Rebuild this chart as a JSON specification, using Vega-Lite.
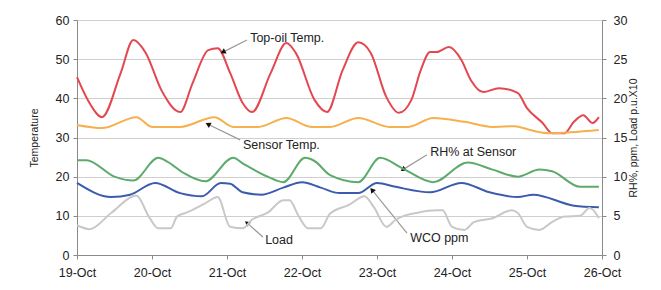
{
  "$schema": "https://vega.github.io/schema/vega-lite/v6.json",
  "width": 525,
  "height": 235,
  "autosize": "none",
  "padding": {"left": 77, "top": 20, "right": 59, "bottom": 35},
  "background": "white",
  "config": {
    "font": "Liberation Sans",
    "view": {"stroke": null},
    "axis": {
      "labelFont": "Liberation Sans",
      "labelFontSize": 12.5,
      "labelColor": "#222",
      "titleFont": "Liberation Sans",
      "titleFontSize": 10.5,
      "titleFontWeight": "normal",
      "titleColor": "#222",
      "domainColor": "#8a8a8a",
      "tickColor": "#8a8a8a",
      "gridColor": "#cfcfcf",
      "tickSize": 4
    },
    "axisLeft": {"labelOverlap": false}
  },
  "datasets": {
    "temps": [
      {"series": "Top-oil Temp.", "time": "2009-10-19T00:00", "value": 45.4},
      {"series": "Top-oil Temp.", "time": "2009-10-19T04:00", "value": 38.8},
      {"series": "Top-oil Temp.", "time": "2009-10-19T08:00", "value": 35.2},
      {"series": "Top-oil Temp.", "time": "2009-10-19T14:00", "value": 46.5},
      {"series": "Top-oil Temp.", "time": "2009-10-19T18:00", "value": 54.9},
      {"series": "Top-oil Temp.", "time": "2009-10-19T22:00", "value": 51.6},
      {"series": "Top-oil Temp.", "time": "2009-10-20T03:00", "value": 42.1},
      {"series": "Top-oil Temp.", "time": "2009-10-20T09:00", "value": 36.5},
      {"series": "Top-oil Temp.", "time": "2009-10-20T13:00", "value": 43.9},
      {"series": "Top-oil Temp.", "time": "2009-10-20T18:00", "value": 52.3},
      {"series": "Top-oil Temp.", "time": "2009-10-20T21:00", "value": 52.8},
      {"series": "Top-oil Temp.", "time": "2009-10-21T01:00", "value": 46.5},
      {"series": "Top-oil Temp.", "time": "2009-10-21T05:00", "value": 38.8},
      {"series": "Top-oil Temp.", "time": "2009-10-21T08:00", "value": 36.5},
      {"series": "Top-oil Temp.", "time": "2009-10-21T14:00", "value": 46.5},
      {"series": "Top-oil Temp.", "time": "2009-10-21T19:00", "value": 54.1},
      {"series": "Top-oil Temp.", "time": "2009-10-21T22:00", "value": 51.6},
      {"series": "Top-oil Temp.", "time": "2009-10-22T04:00", "value": 39.6},
      {"series": "Top-oil Temp.", "time": "2009-10-22T08:00", "value": 36.5},
      {"series": "Top-oil Temp.", "time": "2009-10-22T13:00", "value": 47.2},
      {"series": "Top-oil Temp.", "time": "2009-10-22T18:00", "value": 54.3},
      {"series": "Top-oil Temp.", "time": "2009-10-22T22:00", "value": 51.6},
      {"series": "Top-oil Temp.", "time": "2009-10-23T03:00", "value": 40.3},
      {"series": "Top-oil Temp.", "time": "2009-10-23T07:00", "value": 36.3},
      {"series": "Top-oil Temp.", "time": "2009-10-23T11:00", "value": 39.6},
      {"series": "Top-oil Temp.", "time": "2009-10-23T14:00", "value": 47.2},
      {"series": "Top-oil Temp.", "time": "2009-10-23T17:00", "value": 51.8},
      {"series": "Top-oil Temp.", "time": "2009-10-23T19:00", "value": 51.8},
      {"series": "Top-oil Temp.", "time": "2009-10-23T23:00", "value": 53.1},
      {"series": "Top-oil Temp.", "time": "2009-10-24T03:00", "value": 49.8},
      {"series": "Top-oil Temp.", "time": "2009-10-24T06:00", "value": 44.7},
      {"series": "Top-oil Temp.", "time": "2009-10-24T10:00", "value": 41.6},
      {"series": "Top-oil Temp.", "time": "2009-10-24T15:00", "value": 42.6},
      {"series": "Top-oil Temp.", "time": "2009-10-24T21:00", "value": 41.4},
      {"series": "Top-oil Temp.", "time": "2009-10-25T00:00", "value": 37.5},
      {"series": "Top-oil Temp.", "time": "2009-10-25T05:00", "value": 33.7},
      {"series": "Top-oil Temp.", "time": "2009-10-25T08:00", "value": 31.1},
      {"series": "Top-oil Temp.", "time": "2009-10-25T12:00", "value": 31.1},
      {"series": "Top-oil Temp.", "time": "2009-10-25T15:00", "value": 34.0},
      {"series": "Top-oil Temp.", "time": "2009-10-25T18:00", "value": 35.7},
      {"series": "Top-oil Temp.", "time": "2009-10-25T21:00", "value": 33.7},
      {"series": "Top-oil Temp.", "time": "2009-10-25T23:00", "value": 35.2},
      {"series": "Sensor Temp.", "time": "2009-10-19T00:00", "value": 33.2},
      {"series": "Sensor Temp.", "time": "2009-10-19T08:00", "value": 32.4},
      {"series": "Sensor Temp.", "time": "2009-10-19T19:00", "value": 35.2},
      {"series": "Sensor Temp.", "time": "2009-10-20T00:00", "value": 32.7},
      {"series": "Sensor Temp.", "time": "2009-10-20T09:00", "value": 32.7},
      {"series": "Sensor Temp.", "time": "2009-10-20T20:00", "value": 35.2},
      {"series": "Sensor Temp.", "time": "2009-10-21T02:00", "value": 32.7},
      {"series": "Sensor Temp.", "time": "2009-10-21T10:00", "value": 32.7},
      {"series": "Sensor Temp.", "time": "2009-10-21T19:00", "value": 35.0},
      {"series": "Sensor Temp.", "time": "2009-10-22T03:00", "value": 32.7},
      {"series": "Sensor Temp.", "time": "2009-10-22T09:00", "value": 32.7},
      {"series": "Sensor Temp.", "time": "2009-10-22T18:00", "value": 35.0},
      {"series": "Sensor Temp.", "time": "2009-10-23T04:00", "value": 32.7},
      {"series": "Sensor Temp.", "time": "2009-10-23T10:00", "value": 32.7},
      {"series": "Sensor Temp.", "time": "2009-10-23T18:00", "value": 35.0},
      {"series": "Sensor Temp.", "time": "2009-10-24T04:00", "value": 34.0},
      {"series": "Sensor Temp.", "time": "2009-10-24T13:00", "value": 32.7},
      {"series": "Sensor Temp.", "time": "2009-10-24T20:00", "value": 32.9},
      {"series": "Sensor Temp.", "time": "2009-10-25T01:00", "value": 31.9},
      {"series": "Sensor Temp.", "time": "2009-10-25T07:00", "value": 31.1},
      {"series": "Sensor Temp.", "time": "2009-10-25T23:00", "value": 31.9}
    ],
    "others": [
      {"series": "RH% at Sensor", "time": "2009-10-19T00:00", "value": 12.1},
      {"series": "RH% at Sensor", "time": "2009-10-19T03:00", "value": 12.1},
      {"series": "RH% at Sensor", "time": "2009-10-19T12:00", "value": 10.0},
      {"series": "RH% at Sensor", "time": "2009-10-19T18:00", "value": 9.5},
      {"series": "RH% at Sensor", "time": "2009-10-20T02:00", "value": 12.4},
      {"series": "RH% at Sensor", "time": "2009-10-20T05:00", "value": 11.9},
      {"series": "RH% at Sensor", "time": "2009-10-20T10:00", "value": 10.5},
      {"series": "RH% at Sensor", "time": "2009-10-20T17:00", "value": 9.4},
      {"series": "RH% at Sensor", "time": "2009-10-21T02:00", "value": 12.4},
      {"series": "RH% at Sensor", "time": "2009-10-21T05:00", "value": 11.7},
      {"series": "RH% at Sensor", "time": "2009-10-21T13:00", "value": 10.0},
      {"series": "RH% at Sensor", "time": "2009-10-21T18:00", "value": 9.3},
      {"series": "RH% at Sensor", "time": "2009-10-22T01:00", "value": 12.4},
      {"series": "RH% at Sensor", "time": "2009-10-22T04:00", "value": 12.0},
      {"series": "RH% at Sensor", "time": "2009-10-22T09:00", "value": 10.2},
      {"series": "RH% at Sensor", "time": "2009-10-22T18:00", "value": 9.3},
      {"series": "RH% at Sensor", "time": "2009-10-23T01:00", "value": 12.4},
      {"series": "RH% at Sensor", "time": "2009-10-23T08:00", "value": 11.1},
      {"series": "RH% at Sensor", "time": "2009-10-23T18:00", "value": 9.3},
      {"series": "RH% at Sensor", "time": "2009-10-24T05:00", "value": 11.8},
      {"series": "RH% at Sensor", "time": "2009-10-24T13:00", "value": 10.9},
      {"series": "RH% at Sensor", "time": "2009-10-24T21:00", "value": 10.0},
      {"series": "RH% at Sensor", "time": "2009-10-25T04:00", "value": 10.9},
      {"series": "RH% at Sensor", "time": "2009-10-25T08:00", "value": 10.7},
      {"series": "RH% at Sensor", "time": "2009-10-25T17:00", "value": 8.7},
      {"series": "RH% at Sensor", "time": "2009-10-25T23:00", "value": 8.7},
      {"series": "WCO ppm", "time": "2009-10-19T00:00", "value": 9.2},
      {"series": "WCO ppm", "time": "2009-10-19T11:00", "value": 7.4},
      {"series": "WCO ppm", "time": "2009-10-19T17:00", "value": 7.7},
      {"series": "WCO ppm", "time": "2009-10-20T01:00", "value": 9.2},
      {"series": "WCO ppm", "time": "2009-10-20T09:00", "value": 7.9},
      {"series": "WCO ppm", "time": "2009-10-20T16:00", "value": 7.5},
      {"series": "WCO ppm", "time": "2009-10-20T22:00", "value": 9.2},
      {"series": "WCO ppm", "time": "2009-10-21T01:00", "value": 9.1},
      {"series": "WCO ppm", "time": "2009-10-21T05:00", "value": 8.0},
      {"series": "WCO ppm", "time": "2009-10-21T11:00", "value": 7.7},
      {"series": "WCO ppm", "time": "2009-10-21T18:00", "value": 8.6},
      {"series": "WCO ppm", "time": "2009-10-22T00:00", "value": 9.3},
      {"series": "WCO ppm", "time": "2009-10-22T06:00", "value": 8.6},
      {"series": "WCO ppm", "time": "2009-10-22T12:00", "value": 7.9},
      {"series": "WCO ppm", "time": "2009-10-22T18:00", "value": 7.9},
      {"series": "WCO ppm", "time": "2009-10-23T00:00", "value": 9.2},
      {"series": "WCO ppm", "time": "2009-10-23T06:00", "value": 8.7},
      {"series": "WCO ppm", "time": "2009-10-23T17:00", "value": 8.0},
      {"series": "WCO ppm", "time": "2009-10-24T03:00", "value": 9.2},
      {"series": "WCO ppm", "time": "2009-10-24T12:00", "value": 8.0},
      {"series": "WCO ppm", "time": "2009-10-24T21:00", "value": 7.4},
      {"series": "WCO ppm", "time": "2009-10-25T02:00", "value": 7.7},
      {"series": "WCO ppm", "time": "2009-10-25T15:00", "value": 6.3},
      {"series": "WCO ppm", "time": "2009-10-25T23:00", "value": 6.1},
      {"series": "Load", "time": "2009-10-19T00:00", "value": 3.8},
      {"series": "Load", "time": "2009-10-19T04:00", "value": 3.3},
      {"series": "Load", "time": "2009-10-19T11:00", "value": 5.4},
      {"series": "Load", "time": "2009-10-19T19:00", "value": 7.6},
      {"series": "Load", "time": "2009-10-19T23:00", "value": 4.9},
      {"series": "Load", "time": "2009-10-20T02:00", "value": 3.4},
      {"series": "Load", "time": "2009-10-20T06:00", "value": 3.4},
      {"series": "Load", "time": "2009-10-20T08:00", "value": 4.9},
      {"series": "Load", "time": "2009-10-20T11:00", "value": 5.4},
      {"series": "Load", "time": "2009-10-20T17:00", "value": 6.6},
      {"series": "Load", "time": "2009-10-20T21:00", "value": 7.4},
      {"series": "Load", "time": "2009-10-21T01:00", "value": 3.6},
      {"series": "Load", "time": "2009-10-21T05:00", "value": 3.4},
      {"series": "Load", "time": "2009-10-21T08:00", "value": 4.5},
      {"series": "Load", "time": "2009-10-21T13:00", "value": 5.4},
      {"series": "Load", "time": "2009-10-21T18:00", "value": 7.0},
      {"series": "Load", "time": "2009-10-21T20:00", "value": 7.0},
      {"series": "Load", "time": "2009-10-21T23:00", "value": 4.9},
      {"series": "Load", "time": "2009-10-22T02:00", "value": 3.4},
      {"series": "Load", "time": "2009-10-22T06:00", "value": 3.4},
      {"series": "Load", "time": "2009-10-22T09:00", "value": 5.3},
      {"series": "Load", "time": "2009-10-22T15:00", "value": 6.4},
      {"series": "Load", "time": "2009-10-22T20:00", "value": 7.5},
      {"series": "Load", "time": "2009-10-22T23:00", "value": 6.1},
      {"series": "Load", "time": "2009-10-23T03:00", "value": 3.6},
      {"series": "Load", "time": "2009-10-23T06:00", "value": 4.5},
      {"series": "Load", "time": "2009-10-23T08:00", "value": 4.9},
      {"series": "Load", "time": "2009-10-23T13:00", "value": 5.4},
      {"series": "Load", "time": "2009-10-23T19:00", "value": 5.7},
      {"series": "Load", "time": "2009-10-23T21:00", "value": 5.7},
      {"series": "Load", "time": "2009-10-24T00:00", "value": 3.6},
      {"series": "Load", "time": "2009-10-24T04:00", "value": 3.2},
      {"series": "Load", "time": "2009-10-24T07:00", "value": 4.2},
      {"series": "Load", "time": "2009-10-24T13:00", "value": 4.7},
      {"series": "Load", "time": "2009-10-24T19:00", "value": 5.7},
      {"series": "Load", "time": "2009-10-24T21:00", "value": 5.4},
      {"series": "Load", "time": "2009-10-25T00:00", "value": 3.6},
      {"series": "Load", "time": "2009-10-25T04:00", "value": 3.2},
      {"series": "Load", "time": "2009-10-25T08:00", "value": 4.2},
      {"series": "Load", "time": "2009-10-25T12:00", "value": 4.9},
      {"series": "Load", "time": "2009-10-25T17:00", "value": 5.0},
      {"series": "Load", "time": "2009-10-25T20:00", "value": 6.0},
      {"series": "Load", "time": "2009-10-25T21:00", "value": 5.8},
      {"series": "Load", "time": "2009-10-25T23:00", "value": 4.7}
    ],
    "notes": [
      {"label": "Top-oil Temp.", "tx": "2009-10-21T07:24", "ty": 55.4, "ax": "2009-10-21T06:24", "ay": 54.9, "hx": "2009-10-20T22:42", "hy": 51.8},
      {"label": "Sensor Temp.", "tx": "2009-10-21T05:06", "ty": 28.1, "ax": "2009-10-21T04:12", "ay": 29.4, "hx": "2009-10-20T17:54", "hy": 33.4},
      {"label": "RH% at Sensor", "tx": "2009-10-23T17:00", "ty": 26.3, "ax": "2009-10-23T16:00", "ay": 25.6, "hx": "2009-10-23T08:18", "hy": 21.8},
      {"label": "WCO ppm", "tx": "2009-10-23T10:36", "ty": 4.3, "ax": "2009-10-23T09:36", "ay": 5.6, "hx": "2009-10-22T22:24", "hy": 16.6},
      {"label": "Load", "tx": "2009-10-21T12:12", "ty": 3.8, "ax": "2009-10-21T11:30", "ay": 4.6, "hx": "2009-10-21T06:24", "hy": 8.2}
    ]
  },
  "encoding": {
    "x": {
      "field": "time",
      "type": "temporal",
      "scale": {"domain": [{"year": 2009, "month": 10, "date": 19}, {"year": 2009, "month": 10, "date": 26}], "nice": false},
      "axis": {"title": null, "format": "%d-%b", "tickCount": {"interval": "day", "step": 1}, "grid": false, "labelPadding": 7, "labelFlush": false}
    }
  },
  "layer": [
    {
      "layer": [
        {
          "data": {"name": "temps"},
          "mark": {"type": "line", "strokeWidth": 2, "interpolate": "monotone"},
          "encoding": {
            "y": {"field": "value", "type": "quantitative", "title": "Temperature", "scale": {"domain": [0, 60], "nice": false}, "axis": {"title": "Temperature", "values": [0, 10, 20, 30, 40, 50, 60], "labelOverlap": false, "grid": true, "labelPadding": 4, "titlePadding": 16}},
            "color": {"field": "series", "type": "nominal", "scale": {"domain": ["Top-oil Temp.", "Sensor Temp."], "range": ["#e3474f", "#f6b04d"]}, "legend": null}
          }
        },
        {
          "data": {"name": "notes"},
          "mark": {"type": "rule", "color": "#9a9a9a", "strokeWidth": 1.2},
          "encoding": {
            "x": {"field": "ax", "type": "temporal"},
            "x2": {"field": "hx"},
            "y": {"field": "ay", "type": "quantitative", "title": "Temperature", "axis": {"title": "Temperature", "values": [0, 10, 20, 30, 40, 50, 60], "labelOverlap": false, "grid": true, "labelPadding": 4, "titlePadding": 16}},
            "y2": {"field": "hy"}
          }
        },
        {
          "data": {"name": "notes"},
          "mark": {"type": "text", "align": "left", "baseline": "middle", "fontSize": 12.5, "color": "#222", "font": "Liberation Sans"},
          "encoding": {
            "x": {"field": "tx", "type": "temporal"},
            "y": {"field": "ty", "type": "quantitative", "title": "Temperature", "axis": {"title": "Temperature", "values": [0, 10, 20, 30, 40, 50, 60], "labelOverlap": false, "grid": true, "labelPadding": 4, "titlePadding": 16}},
            "text": {"field": "label"}
          }
        },
        {
          "data": {"name": "notes"},
          "transform": [{"filter": {"field": "label", "equal": "Top-oil Temp."}}],
          "mark": {"type": "point", "shape": "triangle-up", "filled": true, "color": "#111", "size": 35, "opacity": 1, "angle": 243},
          "encoding": {"x": {"field": "hx", "type": "temporal"}, "y": {"field": "hy", "type": "quantitative", "title": "Temperature", "axis": {"title": "Temperature", "values": [0, 10, 20, 30, 40, 50, 60], "labelOverlap": false, "grid": true, "labelPadding": 4, "titlePadding": 16}}}
        },
        {
          "data": {"name": "notes"},
          "transform": [{"filter": {"field": "label", "equal": "Sensor Temp."}}],
          "mark": {"type": "point", "shape": "triangle-up", "filled": true, "color": "#111", "size": 35, "opacity": 1, "angle": 297},
          "encoding": {"x": {"field": "hx", "type": "temporal"}, "y": {"field": "hy", "type": "quantitative", "title": "Temperature", "axis": {"title": "Temperature", "values": [0, 10, 20, 30, 40, 50, 60], "labelOverlap": false, "grid": true, "labelPadding": 4, "titlePadding": 16}}}
        },
        {
          "data": {"name": "notes"},
          "transform": [{"filter": {"field": "label", "equal": "RH% at Sensor"}}],
          "mark": {"type": "point", "shape": "triangle-up", "filled": true, "color": "#111", "size": 35, "opacity": 1, "angle": 238},
          "encoding": {"x": {"field": "hx", "type": "temporal"}, "y": {"field": "hy", "type": "quantitative", "title": "Temperature", "axis": {"title": "Temperature", "values": [0, 10, 20, 30, 40, 50, 60], "labelOverlap": false, "grid": true, "labelPadding": 4, "titlePadding": 16}}}
        },
        {
          "data": {"name": "notes"},
          "transform": [{"filter": {"field": "label", "equal": "WCO ppm"}}],
          "mark": {"type": "point", "shape": "triangle-up", "filled": true, "color": "#111", "size": 35, "opacity": 1, "angle": 321},
          "encoding": {"x": {"field": "hx", "type": "temporal"}, "y": {"field": "hy", "type": "quantitative", "title": "Temperature", "axis": {"title": "Temperature", "values": [0, 10, 20, 30, 40, 50, 60], "labelOverlap": false, "grid": true, "labelPadding": 4, "titlePadding": 16}}}
        },
        {
          "data": {"name": "notes"},
          "transform": [{"filter": {"field": "label", "equal": "Load"}}],
          "mark": {"type": "point", "shape": "triangle-up", "filled": true, "color": "#111", "size": 35, "opacity": 1, "angle": 311},
          "encoding": {"x": {"field": "hx", "type": "temporal"}, "y": {"field": "hy", "type": "quantitative", "title": "Temperature", "axis": {"title": "Temperature", "values": [0, 10, 20, 30, 40, 50, 60], "labelOverlap": false, "grid": true, "labelPadding": 4, "titlePadding": 16}}}
        }
      ]
    },
    {
      "data": {"name": "others"},
      "mark": {"type": "line", "strokeWidth": 2, "interpolate": "monotone"},
      "encoding": {
        "y": {"field": "value", "type": "quantitative", "scale": {"domain": [0, 30], "nice": false}, "axis": {"orient": "right", "title": "RH%, ppm, Load p.u.X10", "titleAngle": 270, "values": [0, 5, 10, 15, 20, 25, 30], "labelOverlap": false, "grid": false, "labelPadding": 7, "titlePadding": 12}},
        "color": {"field": "series", "type": "nominal", "scale": {"domain": ["RH% at Sensor", "WCO ppm", "Load"], "range": ["#5cab6c", "#3b5cae", "#c8c8c8"]}, "legend": null}
      }
    }
  ],
  "resolve": {"scale": {"y": "independent", "color": "independent"}}
}
